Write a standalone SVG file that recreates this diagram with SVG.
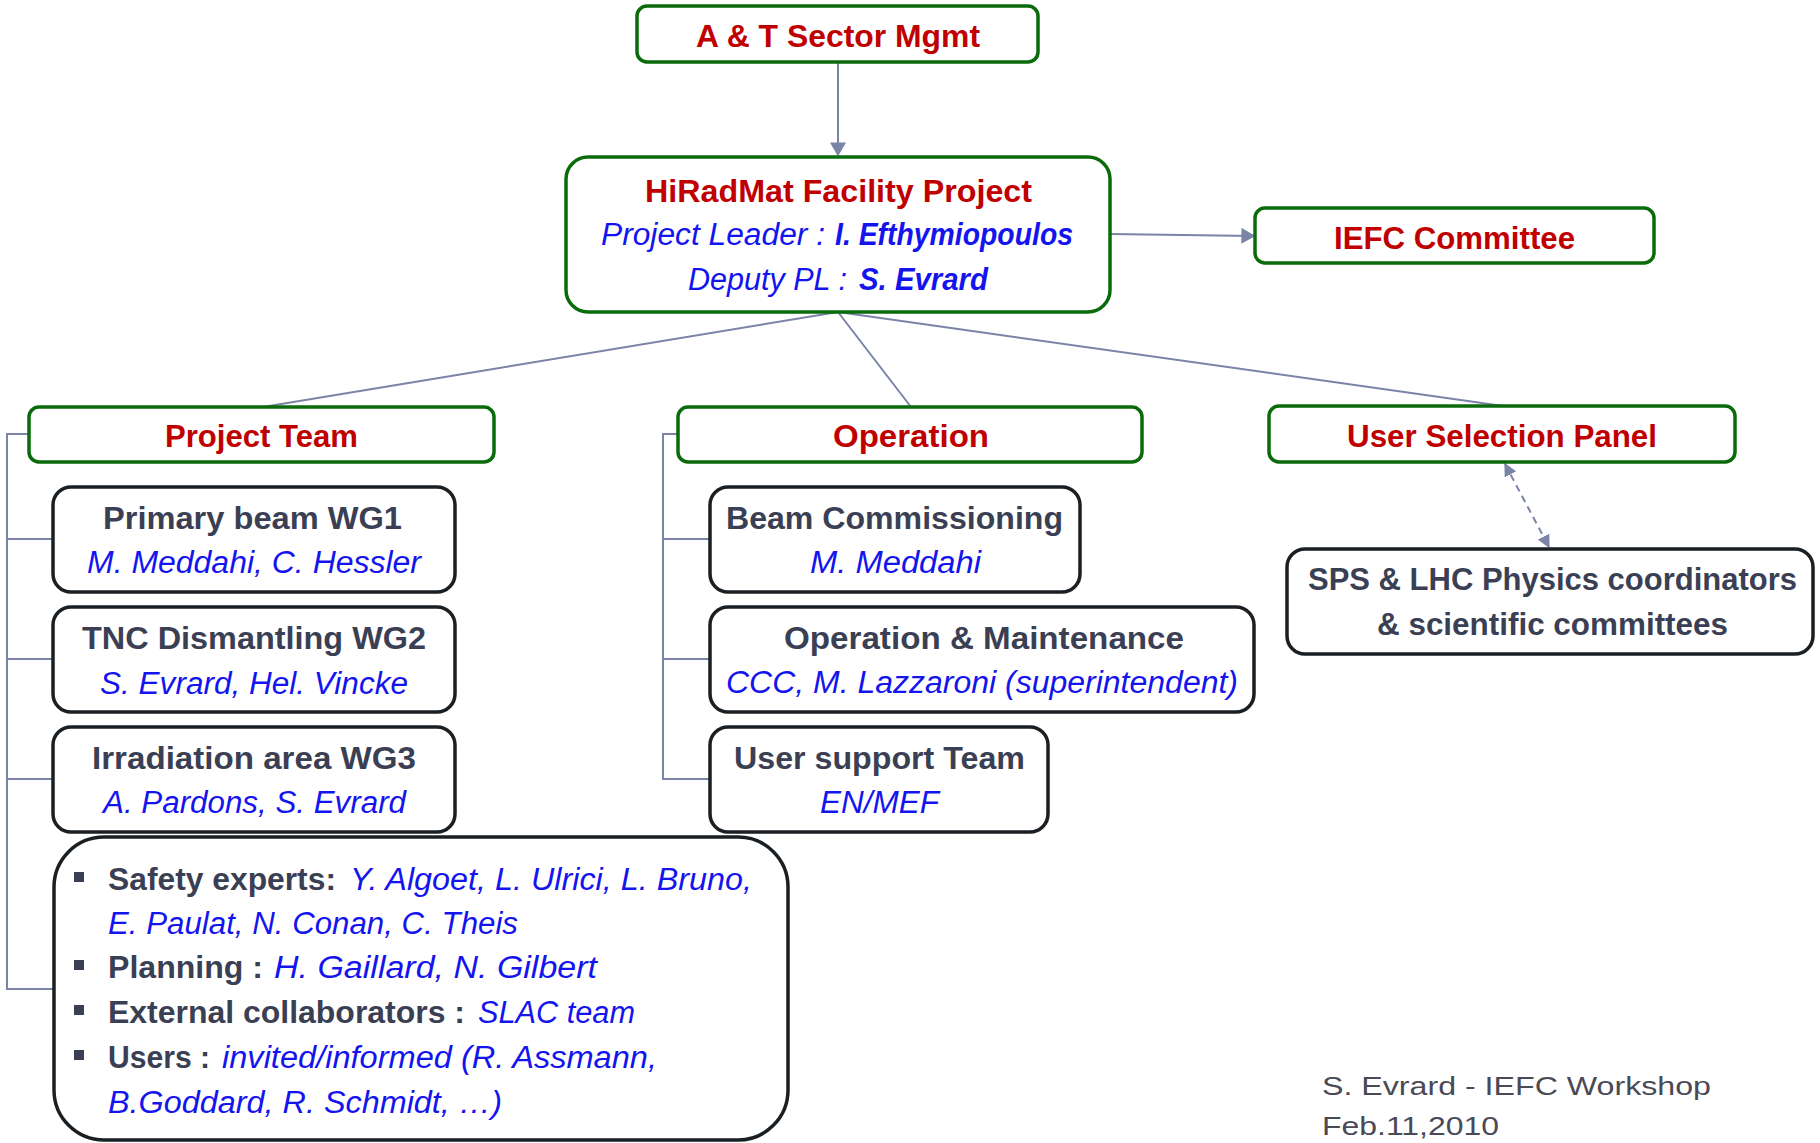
<svg xmlns="http://www.w3.org/2000/svg" width="1820" height="1143" viewBox="0 0 1820 1143">
<defs>
<marker id="arr" viewBox="0 0 10 10" refX="9" refY="5" markerWidth="14" markerHeight="16" preserveAspectRatio="none" orient="auto-start-reverse" markerUnits="userSpaceOnUse">
<path d="M0,0 L10,5 L0,10 z" fill="#7a84a6"/>
</marker>
<marker id="arr2" viewBox="0 0 10 10" refX="9" refY="5" markerWidth="13" markerHeight="13" preserveAspectRatio="none" orient="auto-start-reverse" markerUnits="userSpaceOnUse">
<path d="M0,0 L10,5 L0,10 z" fill="#7a84a6"/>
</marker>
<style>
.g{fill:#fff;stroke:#0a6b0a;stroke-width:3.5}
.k{fill:#fff;stroke:#1a1f24;stroke-width:3.5}
.c{fill:none;stroke:#7a84a6;stroke-width:2}
text{font-family:"Liberation Sans",Arial,sans-serif;font-size:31px}
.r{fill:#c00000;font-weight:bold}
.d{fill:#3b3f54;font-weight:bold}
.b{fill:#1414ee;font-style:italic}
.bb{fill:#1414ee;font-style:italic;font-weight:bold}
.f{fill:#4a4a56;font-size:26px}
</style>
</defs>
<rect width="1820" height="1143" fill="#fff"/>
<g id="connectors">
<line class="c" x1="838" y1="62" x2="838" y2="155" marker-end="url(#arr)" stroke-width="2.5"/>
<line class="c" x1="1110" y1="234" x2="1254" y2="236" marker-end="url(#arr)" stroke-width="2.5"/>
<line class="c" x1="838" y1="312" x2="263" y2="407"/>
<line class="c" x1="838" y1="312" x2="911" y2="407"/>
<line class="c" x1="838" y1="312" x2="1503" y2="406"/>
<line class="c" x1="1505" y1="464" x2="1549" y2="547" stroke-dasharray="7,5" marker-start="url(#arr2)" marker-end="url(#arr2)" stroke-width="2.5"/>
<path class="c" d="M29,434 H7 V989 H54 M7,539 H53 M7,659 H53 M7,779 H53"/>
<path class="c" d="M678,434 H663 V779 H710 M663,539 H710 M663,659 H710"/>
</g>
<g id="at-mgmt">
<rect class="g" x="637" y="6" width="401" height="56" rx="10"/>
<text class="r" x="696" y="47" textLength="284" lengthAdjust="spacingAndGlyphs">A &amp; T Sector Mgmt</text>
</g>
<g id="hiradmat">
<rect class="g" x="566" y="157" width="544" height="155" rx="22"/>
<text class="r" x="645" y="202" textLength="387" lengthAdjust="spacingAndGlyphs">HiRadMat Facility Project</text>
<text class="b" x="601" y="245" textLength="224" lengthAdjust="spacingAndGlyphs">Project Leader :</text>
<text class="bb" x="835" y="245" textLength="238" lengthAdjust="spacingAndGlyphs">I. Efthymiopoulos</text>
<text class="b" x="688" y="290" textLength="159" lengthAdjust="spacingAndGlyphs">Deputy PL :</text>
<text class="bb" x="859" y="290" textLength="129" lengthAdjust="spacingAndGlyphs">S. Evrard</text>
</g>
<g id="iefc">
<rect class="g" x="1255" y="208" width="399" height="55" rx="10"/>
<text class="r" x="1334" y="249" textLength="241" lengthAdjust="spacingAndGlyphs">IEFC Committee</text>
</g>
<g id="project-team">
<rect class="g" x="29" y="407" width="465" height="55" rx="10"/>
<text class="r" x="165" y="447" textLength="193" lengthAdjust="spacingAndGlyphs">Project Team</text>
</g>
<g id="operation">
<rect class="g" x="678" y="407" width="464" height="55" rx="10"/>
<text class="r" x="833" y="447" textLength="156" lengthAdjust="spacingAndGlyphs">Operation</text>
</g>
<g id="user-selection-panel">
<rect class="g" x="1269" y="406" width="466" height="56" rx="10"/>
<text class="r" x="1347" y="447" textLength="310" lengthAdjust="spacingAndGlyphs">User Selection Panel</text>
</g>
<g id="wg1">
<rect class="k" x="53" y="487" width="402" height="105" rx="18"/>
<text class="d" x="103" y="529" textLength="299" lengthAdjust="spacingAndGlyphs">Primary beam WG1</text>
<text class="b" x="87" y="573" textLength="334" lengthAdjust="spacingAndGlyphs">M. Meddahi, C. Hessler</text>
</g>
<g id="wg2">
<rect class="k" x="53" y="607" width="402" height="105" rx="18"/>
<text class="d" x="82" y="649" textLength="344" lengthAdjust="spacingAndGlyphs">TNC Dismantling WG2</text>
<text class="b" x="100" y="694" textLength="308" lengthAdjust="spacingAndGlyphs">S. Evrard, Hel. Vincke</text>
</g>
<g id="wg3">
<rect class="k" x="53" y="727" width="402" height="105" rx="18"/>
<text class="d" x="92" y="769" textLength="324" lengthAdjust="spacingAndGlyphs">Irradiation area WG3</text>
<text class="b" x="103" y="813" textLength="303" lengthAdjust="spacingAndGlyphs">A. Pardons, S. Evrard</text>
</g>
<g id="experts">
<rect class="k" x="54" y="837" width="734" height="303" rx="50"/>
<rect x="74" y="872" width="10" height="10" fill="#3b3f54"/>
<rect x="74" y="960" width="10" height="10" fill="#3b3f54"/>
<rect x="74" y="1005" width="10" height="10" fill="#3b3f54"/>
<rect x="74" y="1050" width="10" height="10" fill="#3b3f54"/>
<text class="d" x="108" y="890" textLength="228" lengthAdjust="spacingAndGlyphs">Safety experts:</text>
<text class="b" x="350" y="890" textLength="402" lengthAdjust="spacingAndGlyphs">Y. Algoet, L. Ulrici, L. Bruno,</text>
<text class="b" x="108" y="934" textLength="410" lengthAdjust="spacingAndGlyphs">E. Paulat, N. Conan, C. Theis</text>
<text class="d" x="108" y="978" textLength="155" lengthAdjust="spacingAndGlyphs">Planning :</text>
<text class="b" x="274" y="978" textLength="323" lengthAdjust="spacingAndGlyphs">H. Gaillard, N. Gilbert</text>
<text class="d" x="108" y="1023" textLength="357" lengthAdjust="spacingAndGlyphs">External collaborators :</text>
<text class="b" x="478" y="1023" textLength="157" lengthAdjust="spacingAndGlyphs">SLAC team</text>
<text class="d" x="108" y="1068" textLength="102" lengthAdjust="spacingAndGlyphs">Users :</text>
<text class="b" x="222" y="1068" textLength="435" lengthAdjust="spacingAndGlyphs">invited/informed (R. Assmann,</text>
<text class="b" x="108" y="1113" textLength="394" lengthAdjust="spacingAndGlyphs">B.Goddard, R. Schmidt, …)</text>
</g>
<g id="beam-commissioning">
<rect class="k" x="710" y="487" width="370" height="105" rx="18"/>
<text class="d" x="726" y="529" textLength="337" lengthAdjust="spacingAndGlyphs">Beam Commissioning</text>
<text class="b" x="810" y="573" textLength="171" lengthAdjust="spacingAndGlyphs">M. Meddahi</text>
</g>
<g id="operation-maintenance">
<rect class="k" x="710" y="607" width="544" height="105" rx="18"/>
<text class="d" x="784" y="649" textLength="400" lengthAdjust="spacingAndGlyphs">Operation &amp; Maintenance</text>
<text class="b" x="726" y="693" textLength="512" lengthAdjust="spacingAndGlyphs">CCC, M. Lazzaroni (superintendent)</text>
</g>
<g id="user-support">
<rect class="k" x="710" y="727" width="338" height="105" rx="18"/>
<text class="d" x="734" y="769" textLength="291" lengthAdjust="spacingAndGlyphs">User support Team</text>
<text class="b" x="820" y="813" textLength="119" lengthAdjust="spacingAndGlyphs">EN/MEF</text>
</g>
<g id="sps-lhc">
<rect class="k" x="1287" y="549" width="526" height="105" rx="18"/>
<text class="d" x="1308" y="590" textLength="489" lengthAdjust="spacingAndGlyphs">SPS &amp; LHC Physics coordinators</text>
<text class="d" x="1377" y="635" textLength="351" lengthAdjust="spacingAndGlyphs">&amp; scientific committees</text>
</g>
<g id="footer">
<text class="f" x="1322" y="1095" textLength="389" lengthAdjust="spacingAndGlyphs">S. Evrard - IEFC Workshop</text>
<text class="f" x="1322" y="1135" textLength="177" lengthAdjust="spacingAndGlyphs">Feb.11,2010</text>
</g>
</svg>
